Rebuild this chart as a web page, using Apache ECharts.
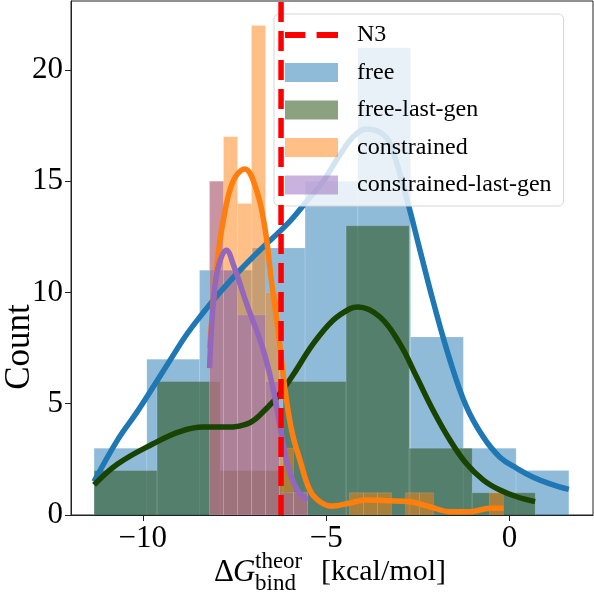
<!DOCTYPE html>
<html>
<head>
<meta charset="utf-8">
<script src="https://cdn.jsdelivr.net/npm/echarts@6/dist/echarts.min.js"></script>
</head>
<body style="margin:0">
<div id="main" style="width:594px;height:594px"></div>
<script>
// histogram bins: first edge, bin width, counts per bin
var freeStart = -11.33, freeWidth = 1.439;
var freeCounts = [3, 7, 11, 12, 15, 21, 8, 3, 2];
var freeLastStart = -11.33, freeLastWidth = 1.719;
var freeLastCounts = [2, 6, 2, 6, 13, 3, 1];
var conStart = -8.18, conWidth = 0.3817;
var conCounts = [15, 17, 14, 22, 10, 3, 1, 0, 0, 0, 1, 1, 1, 0, 1, 1, 0, 0, 0, 0, 1];
var conLastStart = -8.18, conLastWidth = 0.3817;
var conLastCounts = [15, 11, 9, 9, 6, 1, 1];

// kde curves
var freeKdeX = [-11.33, -10.68, -10.17, -9.72, -9.26, -8.81, -8.35, -7.90, -7.35, -6.81, -5.99, -5.53, -5.08, -4.62, -4.26, -3.90, -3.53, -3.26, -2.80, -2.44, -2.08, -1.62, -1.17, -0.71, -0.26, 0.20, 0.65, 1.11, 1.62];
var freeKdeY = [1.5, 3.4, 4.6, 5.75, 6.95, 8.1, 9.1, 10.0, 11.0, 11.9, 13.2, 14.1, 15.0, 16.2, 17.0, 17.35, 17.2, 16.7, 14.2, 11.9, 9.6, 6.95, 4.86, 3.5, 2.6, 2.1, 1.7, 1.4, 1.15];
var freeLastKdeX = [-11.33, -10.68, -9.72, -8.99, -8.35, -7.72, -7.08, -6.62, -6.26, -5.90, -5.35, -4.81, -4.35, -4.13, -3.53, -2.99, -2.53, -2.08, -1.62, -1.17, -0.71, -0.26, 0.20, 0.70];
var freeLastKdeY = [1.35, 2.3, 3.2, 3.75, 3.95, 3.95, 4.15, 4.8, 5.45, 6.3, 7.7, 8.75, 9.27, 9.35, 8.9, 7.7, 6.2, 4.7, 3.36, 2.3, 1.57, 1.12, 0.82, 0.6];
var conKdeX = [-8.18, -7.99, -7.81, -7.54, -7.22, -6.90, -6.67, -6.49, -6.31, -6.13, -5.94, -5.72, -5.44, -5.17, -4.82, -4.41, -3.90, -3.26, -2.71, -2.17, -1.62, -1.08, -0.53, -0.16];
var conKdeY = [7.5, 11.1, 13.2, 15.0, 15.55, 14.6, 12.9, 10.5, 8.3, 5.75, 3.8, 2.5, 1.1, 0.6, 0.4, 0.52, 0.67, 0.64, 0.6, 0.37, 0.15, 0.15, 0.3, 0.3];
var conLastKdeX = [-8.18, -8.08, -7.95, -7.72, -7.52, -7.17, -6.73, -6.45, -6.26, -6.04, -5.81, -5.51];
var conLastKdeY = [6.6, 9.5, 11.1, 11.9, 11.2, 9.5, 7.5, 5.7, 4.0, 2.2, 1.2, 0.67];

var n3Value = -6.23;
var xTicks = [-10, -5, 0];
var yTicks = [0, 5, 10, 15, 20];

var colors = {
    free: '#1f77b4',
    freeLast: '#184300',
    con: '#ff7f0e',
    conLast: '#9467bd'
};
var serif = 'Liberation Serif';

function fade(hex) {
    var r = parseInt(hex.substr(1, 2), 16), g = parseInt(hex.substr(3, 2), 16), b = parseInt(hex.substr(5, 2), 16);
    return 'rgba(' + r + ',' + g + ',' + b + ',0.5)';
}

function histSeries(name, start, width, counts, color) {
    var data = counts.map(function (c, i) {
        return [start + i * width, start + (i + 1) * width, c];
    });
    return {
        name: name,
        type: 'custom',
        z: 1,
        clip: true,
        itemStyle: {color: fade(color)},
        encode: {x: [0, 1], y: 2},
        renderItem: function (params, api) {
            var p0 = api.coord([api.value(0), 0]);
            var p1 = api.coord([api.value(1), api.value(2)]);
            return {
                type: 'rect',
                shape: {x: p0[0], y: p1[1], width: p1[0] - p0[0], height: p0[1] - p1[1]},
                style: {fill: fade(color), stroke: 'rgba(255,255,255,0.12)', lineWidth: 1}
            };
        },
        data: data
    };
}

function kdeSeries(name, xs, ys, color) {
    return {
        name: name,
        type: 'line',
        z: 3,
        smooth: 0.4,
        symbol: 'none',
        silent: true,
        lineStyle: {color: color, width: 5.5},
        data: xs.map(function (x, i) { return [x, ys[i]]; })
    };
}

var chart = echarts.init(document.getElementById('main'));
var option = {
    animation: false,
    grid: {left: 71, right: 1, top: 1, bottom: 79, outerBoundsMode: 'none', containLabel: false,
        show: true, borderColor: '#222', borderWidth: 1},
    legend: {
        orient: 'vertical',
        left: 274,
        top: 14,
        padding: [9, 12, 9, 11],
        itemWidth: 53,
        itemHeight: 19,
        itemGap: 13.5,
        symbolKeepAspect: true,
        backgroundColor: 'rgba(255,255,255,0.8)',
        borderColor: '#d6d6d6',
        borderWidth: 1,
        borderRadius: 5,
        textStyle: {fontFamily: serif, fontSize: 24, color: '#000', padding: [0, 0, 0, 14]},
        data: [
            {name: 'N3', icon: 'path://M0,0H20V6H0Z M31,0H52V6H31Z', itemStyle: {color: '#ff0000'}},
            {name: 'free', icon: 'rect'},
            {name: 'free-last-gen', icon: 'rect'},
            {name: 'constrained', icon: 'rect'},
            {name: 'constrained-last-gen', icon: 'rect'}
        ]
    },
    xAxis: {
        type: 'value',
        min: -11.96,
        max: 2.28,
        axisLine: {show: true, onZero: false, lineStyle: {color: '#222', width: 1}},
        axisTick: {show: true, customValues: xTicks, length: 6, lineStyle: {color: '#222'}},
        axisLabel: {
            customValues: xTicks, margin: 8, fontFamily: serif, fontSize: 31, color: '#000',
            formatter: function (v) { return v < 0 ? '\u2212' + Math.abs(v) : String(v); }
        },
        splitLine: {show: false}
    },
    yAxis: {
        type: 'value',
        min: 0,
        max: 23.1,
        axisLine: {show: true, onZero: false, lineStyle: {color: '#222', width: 1}},
        axisTick: {show: true, customValues: yTicks, length: 6, lineStyle: {color: '#222'}},
        axisLabel: {customValues: yTicks, margin: 8, fontFamily: serif, fontSize: 31, color: '#000'},
        splitLine: {show: false}
    },
    graphic: [{
        type: 'text',
        x: 20,
        y: 347,
        rotation: Math.PI / 2,
        style: {text: 'Count', font: '35px "Liberation Serif"', fill: '#000', align: 'center', verticalAlign: 'middle'}
    }, {
        type: 'group',
        left: 214,
        top: 550,
        children: [
            {type: 'text', x: 0, y: 7, style: {text: '\u0394', font: '31px "Liberation Serif"', fill: '#000'}},
            {type: 'text', x: 19, y: 7, style: {text: 'G', font: 'italic 31px "Liberation Serif"', fill: '#000'}},
            {type: 'text', x: 41, y: 0, style: {text: 'theor', font: '23px "Liberation Serif"', fill: '#000'}},
            {type: 'text', x: 41, y: 22, style: {text: 'bind', font: '23px "Liberation Serif"', fill: '#000'}},
            {type: 'text', x: 107, y: 7, style: {text: '[kcal/mol]', font: '30px "Liberation Serif"', fill: '#000'}}
        ]
    }],
    series: [
        histSeries('free', freeStart, freeWidth, freeCounts, colors.free),
        histSeries('free-last-gen', freeLastStart, freeLastWidth, freeLastCounts, colors.freeLast),
        histSeries('constrained', conStart, conWidth, conCounts, colors.con),
        histSeries('constrained-last-gen', conLastStart, conLastWidth, conLastCounts, colors.conLast),
        kdeSeries('free kde', freeKdeX, freeKdeY, colors.free),
        kdeSeries('free-last-gen kde', freeLastKdeX, freeLastKdeY, colors.freeLast),
        kdeSeries('constrained kde', conKdeX, conKdeY, colors.con),
        kdeSeries('constrained-last-gen kde', conLastKdeX, conLastKdeY, colors.conLast),
        {
            name: 'N3',
            type: 'line',
            z: 4,
            symbol: 'none',
            silent: true,
            lineStyle: {color: '#ff0000', width: 5.5, type: [20, 9]},
            itemStyle: {color: '#ff0000'},
            data: [[n3Value, 0], [n3Value, 23.1]]
        }
    ]
};
chart.setOption(option);
</script>
</body>
</html>
